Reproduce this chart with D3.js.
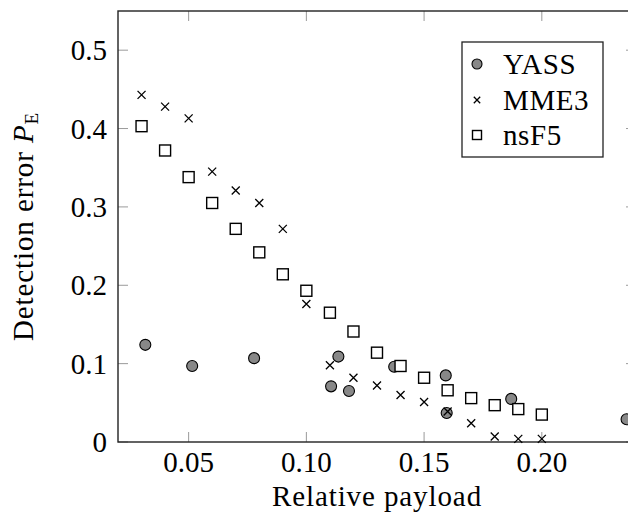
<!DOCTYPE html>
<meta charset="utf-8">
<html>
<head>
  <script src="https://d3js.org/d3.v7.min.js"></script>
  <style>
    body { margin: 0; background: #fff; }
  </style>
</head>
<body>
<div id="chart"></div>
<script>
// --- data ---
var xTicks = [0.05, 0.10, 0.15, 0.20];
var yTicks = [0, 0.1, 0.2, 0.3, 0.4, 0.5];
var seriesNames = ["YASS", "MME3", "nsF5"];

var yassX = [0.0316, 0.0515, 0.0778, 0.1105, 0.1136, 0.1181, 0.1373, 0.1592, 0.1596, 0.187, 0.236];
var yassY = [0.124, 0.097, 0.107, 0.071, 0.109, 0.065, 0.096, 0.085, 0.037, 0.055, 0.029];

var mmeX = [0.03, 0.04, 0.05, 0.06, 0.07, 0.08, 0.09, 0.10, 0.11, 0.12, 0.13, 0.14, 0.15, 0.16, 0.17, 0.18, 0.19, 0.20];
var mmeY = [0.443, 0.428, 0.413, 0.345, 0.321, 0.305, 0.272, 0.176, 0.098, 0.082, 0.072, 0.060, 0.051, 0.039, 0.024, 0.007, 0.004, 0.004];

var nsf5X = [0.03, 0.04, 0.05, 0.06, 0.07, 0.08, 0.09, 0.10, 0.11, 0.12, 0.13, 0.14, 0.15, 0.16, 0.17, 0.18, 0.19, 0.20];
var nsf5Y = [0.403, 0.372, 0.338, 0.305, 0.272, 0.242, 0.214, 0.193, 0.165, 0.141, 0.114, 0.097, 0.082, 0.066, 0.056, 0.047, 0.042, 0.035];

var width = 628, height = 517;
var plotL = 118, plotT = 11, plotR = 636, plotB = 442;
var fs = 29;
var serif = "'Liberation Serif', 'Times New Roman', Times, serif";

var svg = d3.select("#chart").append("svg")
    .attr("width", width)
    .attr("height", height)
    .attr("font-family", serif);

var x = d3.scaleLinear().domain([0.02, 0.24]).range([plotL, plotR]);
var y = d3.scaleLinear().domain([0, 0.55]).range([plotB, plotT]);

// tick marks, pointing inward on all four sides
var tickLen = 10;
var ticks = svg.append("g").attr("stroke", "#9a9a9a").attr("stroke-width", 1);
xTicks.forEach(function(t) {
  ticks.append("line").attr("x1", x(t)).attr("x2", x(t)).attr("y1", plotB).attr("y2", plotB - tickLen);
  ticks.append("line").attr("x1", x(t)).attr("x2", x(t)).attr("y1", plotT).attr("y2", plotT + tickLen);
});
yTicks.forEach(function(t) {
  ticks.append("line").attr("y1", y(t)).attr("y2", y(t)).attr("x1", plotL).attr("x2", plotL + tickLen);
  ticks.append("line").attr("y1", y(t)).attr("y2", y(t)).attr("x1", plotR).attr("x2", plotR - tickLen);
});

// tick labels
svg.append("g").selectAll("text")
  .data(xTicks).enter().append("text")
  .attr("x", function(d) { return x(d); })
  .attr("y", 472)
  .attr("text-anchor", "middle")
  .attr("font-family", serif)
  .attr("font-size", fs)
  .text(function(d) { return d3.format(".2f")(d); });

svg.append("g").selectAll("text")
  .data(yTicks).enter().append("text")
  .attr("x", 107)
  .attr("y", function(d) { return y(d) + 10; })
  .attr("text-anchor", "end")
  .attr("font-family", serif)
  .attr("font-size", fs)
  .text(function(d) { return d === 0 ? "0" : d3.format(".1f")(d); });

// frame
svg.append("rect")
  .attr("x", plotL).attr("y", plotT)
  .attr("width", plotR - plotL).attr("height", plotB - plotT)
  .attr("fill", "none").attr("stroke", "#222").attr("stroke-width", 1.4);

// marker drawing helpers
function drawCircle(g, cx, cy, r) {
  g.append("circle").attr("cx", cx).attr("cy", cy).attr("r", r)
    .attr("fill", "#888").attr("stroke", "#000").attr("stroke-width", 1.1);
}
function drawCross(g, cx, cy, s) {
  g.append("path")
    .attr("d", "M" + (cx - s) + "," + (cy - s) + "L" + (cx + s) + "," + (cy + s) +
               "M" + (cx - s) + "," + (cy + s) + "L" + (cx + s) + "," + (cy - s))
    .attr("stroke", "#000").attr("stroke-width", 1.3).attr("fill", "none");
}
function drawSquare(g, cx, cy, s) {
  g.append("rect").attr("x", cx - s).attr("y", cy - s).attr("width", 2 * s).attr("height", 2 * s)
    .attr("fill", "#fff").attr("stroke", "#000").attr("stroke-width", 1.4);
}

var marks = svg.append("g");
yassX.forEach(function(v, i) { drawCircle(marks, x(v), y(yassY[i]), 5.5); });
mmeX.forEach(function(v, i) { drawCross(marks, x(v), y(mmeY[i]), 4); });
nsf5X.forEach(function(v, i) { drawSquare(marks, x(v), y(nsf5Y[i]), 5.5); });

// legend
var lg = svg.append("g");
lg.append("rect").attr("x", 462).attr("y", 42).attr("width", 141).attr("height", 115)
  .attr("fill", "#fff").attr("stroke", "#222").attr("stroke-width", 1.3);
var legendY = [64, 100, 135];
drawCircle(lg, 477, legendY[0], 5);
drawCross(lg, 477, legendY[1], 3.2);
drawSquare(lg, 477, legendY[2], 4.5);
seriesNames.forEach(function(n, i) {
  lg.append("text").attr("x", 503).attr("y", legendY[i] + 10)
    .attr("font-family", serif)
    .attr("font-size", fs).attr("letter-spacing", 0.6).text(n);
});

// axis labels
svg.append("text")
  .attr("x", (plotL + plotR) / 2).attr("y", 506)
  .attr("text-anchor", "middle")
  .attr("font-family", serif)
  .attr("font-size", fs).attr("letter-spacing", 0.9)
  .text("Relative payload");

var yl = svg.append("text")
  .attr("transform", "translate(33," + ((plotT + plotB) / 2) + ") rotate(-90)")
  .attr("text-anchor", "middle")
  .attr("font-family", serif)
  .attr("font-size", fs).attr("letter-spacing", 0.9);
yl.append("tspan").text("Detection error ");
yl.append("tspan").attr("font-style", "italic").text("P");
yl.append("tspan").attr("font-size", 19).attr("dy", 5).text("E");
</script>
</body>
</html>
